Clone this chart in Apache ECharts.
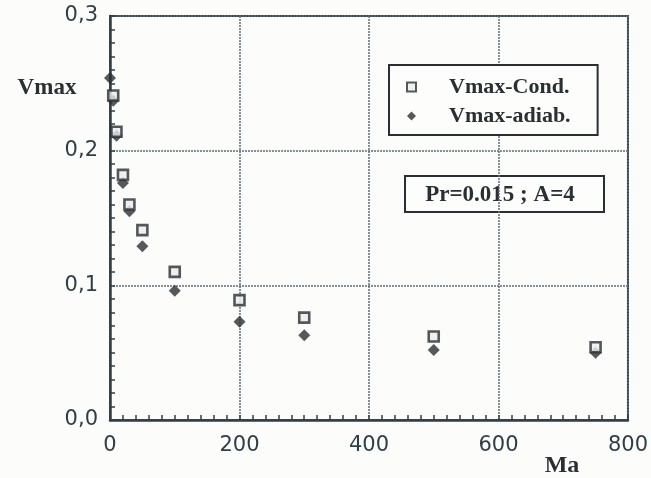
<!DOCTYPE html>
<html>
<head>
<meta charset="utf-8">
<script src="https://cdn.jsdelivr.net/npm/echarts@6/dist/echarts.min.js"></script>
<style>
  html, body { margin: 0; padding: 0; background: #fcfcfb; }
  #chart { width: 651px; height: 478px; }
</style>
</head>
<body>
<div id="chart"></div>
<script>
// Maximum velocity versus Marangoni number
const maValues   = [0, 5, 10, 20, 30, 50, 100, 200, 300, 500, 750];
const vmaxCond   = [null, 0.241, 0.214, 0.182, 0.160, 0.141, 0.110, 0.089, 0.076, 0.062, 0.054];
const vmaxAdiab  = [0.254, 0.237, 0.211, 0.176, 0.155, 0.129, 0.096, 0.073, 0.063, 0.052, 0.050];
const xTicks     = [0, 200, 400, 600, 800];
const yTicks     = [0.0, 0.1, 0.2, 0.3];
const seriesNames = ['Vmax-Cond.', 'Vmax-adiab.'];

const pairs = (ys) => maValues.map((x, i) => [x, ys[i]]).filter(p => p[1] !== null);

const ink = '#2a2f33';
const axisInk = '#303f47';
const gridInk = '#5d6e7a';

const chart = echarts.init(document.getElementById('chart'), null, { renderer: 'canvas' });

chart.setOption({
  backgroundColor: '#fcfcfb',
  animation: false,
  grid: {
    left: 110, right: 23, top: 16, bottom: 58,
    show: true, borderColor: axisInk, borderWidth: 2,
    backgroundColor: 'transparent'
  },
  xAxis: {
    type: 'value',
    min: xTicks[0], max: xTicks[xTicks.length - 1], interval: 200,
    axisLine: { lineStyle: { color: axisInk, width: 2.5 } },
    axisTick: { inside: true, length: 5, lineStyle: { color: axisInk, width: 1.5 } },
    minorTick: { show: true, splitNumber: 10, length: 5, lineStyle: { color: axisInk, width: 1.5 } },
    splitLine: { show: true, lineStyle: { color: gridInk, width: 1.5, type: [2, 1] } },
    axisLabel: {
      margin: 15, color: axisInk, fontFamily: 'DejaVu Sans', fontSize: 21,
      formatter: v => String(v)
    }
  },
  yAxis: {
    type: 'value',
    min: yTicks[0], max: yTicks[yTicks.length - 1], interval: 0.1,
    axisLine: { lineStyle: { color: axisInk, width: 2.5 } },
    axisTick: { inside: true, length: 5, lineStyle: { color: axisInk, width: 1.5 } },
    minorTick: { show: true, splitNumber: 10, length: 5, lineStyle: { color: axisInk, width: 1.5 } },
    splitLine: { show: true, lineStyle: { color: gridInk, width: 1.5, type: [2, 1] } },
    axisLabel: {
      margin: 12, color: axisInk, fontFamily: 'DejaVu Sans', fontSize: 21,
      formatter: v => v.toFixed(1).replace('.', ',')
    }
  },
  legend: {
    orient: 'vertical',
    left: 389, top: 65,
    padding: [11, 27, 8, 17],
    itemWidth: 9, itemHeight: 9, itemGap: 7,
    backgroundColor: '#fdfdfc',
    borderColor: ink, borderWidth: 2, borderRadius: 0,
    textStyle: {
      fontFamily: 'Liberation Serif', fontWeight: 'bold', fontSize: 22,
      color: ink, lineHeight: 22, padding: [0, 0, 0, 28]
    },
    data: seriesNames
  },
  series: [
    {
      name: seriesNames[0], type: 'scatter',
      symbol: 'rect', symbolSize: 10,
      itemStyle: { color: '#e9ecec', borderColor: ink, borderWidth: 2.6 },
      z: 3,
      data: pairs(vmaxCond)
    },
    {
      name: seriesNames[1], type: 'scatter',
      symbol: 'diamond', symbolSize: [12, 12],
      itemStyle: { color: ink },
      z: 2,
      data: pairs(vmaxAdiab)
    }
  ],
  graphic: [
    {
      type: 'group', left: 404, top: 175,
      children: [
        { type: 'rect', shape: { x: 0, y: 0, width: 199, height: 36 },
          style: { fill: '#fdfdfc', stroke: ink, lineWidth: 2 } },
        { type: 'text', x: 95, y: 19,
          style: { text: 'Pr=0.015 ; A=4', fill: ink, align: 'center', verticalAlign: 'middle',
                   font: 'bold 23px "Liberation Serif"' } }
      ]
    },
    { type: 'text', x: 47, y: 88,
      style: { text: 'Vmax', fill: ink, align: 'center', verticalAlign: 'middle',
               font: 'bold 23px "Liberation Serif"' } },
    { type: 'text', x: 562, y: 466,
      style: { text: 'Ma', fill: ink, align: 'center', verticalAlign: 'middle',
               font: 'bold 24px "Liberation Serif"' } }
  ]
});
</script>
</body>
</html>
